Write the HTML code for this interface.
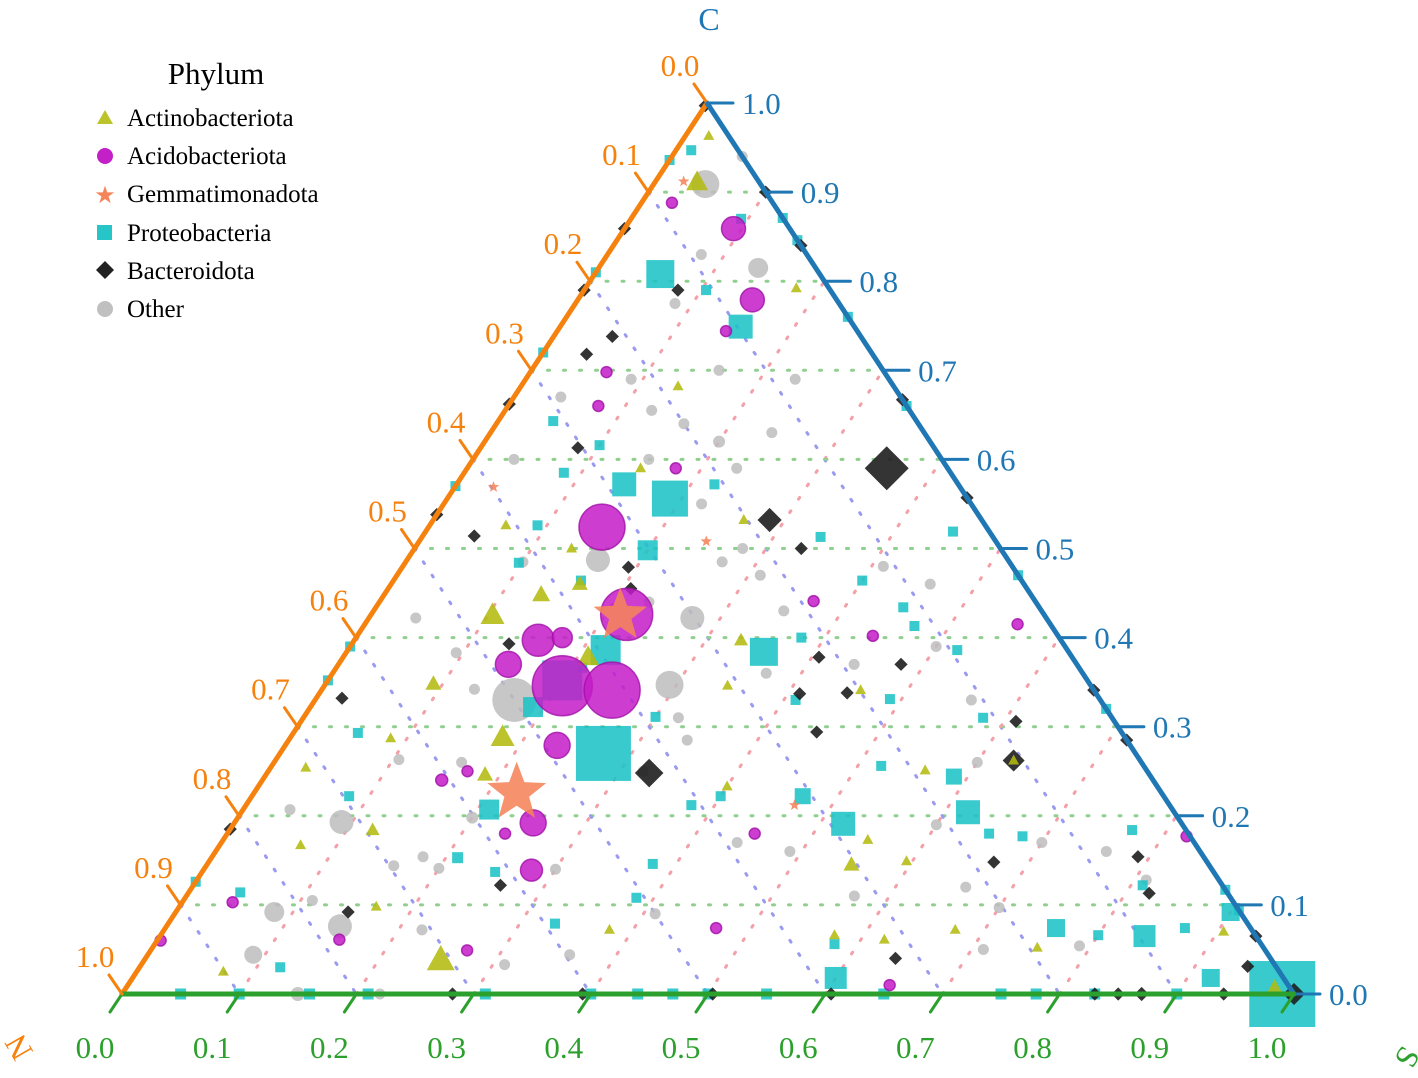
<!DOCTYPE html>
<html><head><meta charset="utf-8"><style>
html,body{margin:0;padding:0;background:#fff;}
svg{display:block;font-family:"Liberation Serif",serif;}
</style></head><body>
<svg id="chart" width="1418" height="1078" viewBox="0 0 1418 1078" xmlns="http://www.w3.org/2000/svg">
<g id="grid"></g>
<g id="marks"></g>
<g id="axes"></g>
<g font-size="25">
  <text x="216" y="84" text-anchor="middle" font-size="31">Phylum</text>
  <g><polygon points="105,110 113,124 97,124" fill="#b5be14" opacity="0.9"/><text x="127" y="126">Actinobacteriota</text></g>
  <g><circle cx="105" cy="156" r="8" fill="#c420c8"/><text x="127" y="164">Acidobacteriota</text></g>
  <g><text x="105" y="203" text-anchor="middle" fill="#f5845a" font-size="24">★</text><text x="127" y="202">Gemmatimonadota</text></g>
  <g><rect x="97" y="225" width="15" height="15" fill="#25c5c8"/><text x="127" y="241">Proteobacteria</text></g>
  <g><polygon points="105,261 114,270 105,279 96,270" fill="#222"/><text x="127" y="279">Bacteroidota</text></g>
  <g><circle cx="105" cy="309" r="8" fill="#c0c0c0"/><text x="127" y="317">Other</text></g>
</g>
</svg>
<script>
// ---- data: S (bottom), C (right/top); N = 1 - S - C; size = marker size px
const otherS=[.17,.294,.276,.044,.136,.091,.148,.084,.09,.163,.04,.11,.04,.094,.13,.105,.16,.2,.18,.16,.2,.1,.035,.04,.09,.125,.16,.2,.23,.24,.23,.16,.085,.08,.06,.22,.28,.31,.35,.44,.41,.46,.5,.56,.6,.66,.7,.76,.79,.71,.57,.49,.44,.41,.36,.3,.34,.32,.37,.6,.7,.81,.15,.23,.27,.22,.15,.22,.31,.32];
const otherC=[.33,.347,.422,.909,.815,.193,.076,.092,.044,.487,.207,.105,.422,.383,.342,.263,.26,.198,.154,.144,.141,.485,.6,.67,.69,.655,.70,.62,.59,.63,.69,.64,.775,.83,.94,.55,.5,.47,.43,.37,.48,.46,.39,.33,.26,.12,.17,.16,.054,.05,.11,.16,.17,.09,.044,.14,.285,.31,.36,.19,.097,.128,.6,.44,.485,.072,0,0,.033,.25];
const otherSize=[44,28,24,28,20,24,24,20,18,24,11,11,11,11,11,11,11,12,11,11,11,11,11,11,11,11,11,12,11,11,11,11,11,11,11,11,11,11,11,11,11,11,11,11,11,11,11,11,11,11,11,11,11,11,11,11,11,11,11,11,11,11,11,11,11,11,14,11,11,11];

const protS=[.99,.276,.19,.056,.356,.154,.143,.62,.52,.60,.84,.588,.22,.20,.92,.76,.90,.21,.47,.19,.20,
 .055,.083,.044,.12,.21,.25,.047,.085,.092,.097,.16,.22,.34,.40,.47,.45,.52,.45,.58,.49,.38,.41,.30,.38,.40,.38,.385,.33,.65,.68,.77,.81,.80,.87,.58,.094,.104,.013,.10,.21,.52,
 .05,.10,.16,.21,.31,.40,.44,.47,.50,.55,.65,.75,.78,.83,.90,
 0,0,0,0,0,0,0,.129,.154,.24,.34,.53,.68,.883,.906];
const protC=[0,.27,.556,.808,.384,.749,.572,.204,.191,.018,.065,.244,.386,.352,.018,.074,.092,.207,.222,.322,.498,
 .293,.222,.114,.03,.153,.137,.643,.585,.526,.484,.464,.572,.513,.464,.413,.434,.386,.519,.31,.331,.40,.33,.311,.212,.222,.146,.108,.079,.18,.177,.184,.122,.066,.074,.056,.87,.79,.947,.616,.366,.256,
 0,0,0,0,0,0,0,0,0,0,0,0,0,0,0,
 .126,.352,.39,.57,.72,.936,.81,.871,.846,.76,.66,.47,.32,.117,.094];
const protSize=[66,55,36,28,28,24,24,24,24,22,22,16,30,40,18,18,18,20,16,20,20,
 10,10,10,10,11,10,10,10,10,10,10,10,10,10,10,10,10,10,10,10,10,10,10,10,10,10,10,10,10,10,10,10,10,10,10,10,10,10,10,10,10,
 11,11,11,11,11,11,11,11,11,11,11,11,11,11,11,
 10,10,10,10,10,10,10,10,10,10,10,10,10,10,10];

const bactS=[.358,.326,.287,.63,1.0,.87,.85,.83,.94,.945,.79,.82,.67,.61,.48,.45,.41,.406,.446,.33,.207,.193,.262,.147,.022,.044,.083,.038,.05,.08,.134,.64,.605,.504,.393,.282,
 .10,.16,.333,.443,.659,.715,.935,0,0,0,0,0,0];
const bactC=[.59,.248,.532,.262,0,0,0,0,0,.031,.154,.113,.148,.306,.37,.338,.337,.378,.294,.50,.455,.479,.122,.092,.332,.514,.613,.718,.738,.79,.393,.04,0,0,0,0,
 .9,.84,.667,.557,.341,.285,.065,.185,.538,.662,.859,.79,.997];
const bactSize=[40,26,22,20,20,13,12,12,12,12,12,12,12,12,12,12,12,12,12,12,12,12,12,12,12,12,12,12,12,12,12,12,12,12,12,12,
 12,12,12,12,12,12,12,12,12,12,12,12,12];

const actS=[.253,.181,.104,.036,.209,.134,.161,.187,.092,.122,.55,.33,.98,.069,.03,.086,.168,.074,.134,.065,.148,.134,.18,.40,.344,.46,.55,.595,.56,.675,.755,.62,.575,.38,.02,.265,.905,.63];
const actC=[.038,.288,.425,.911,.378,.448,.46,.246,.348,.184,.145,.397,.007,.167,.254,.287,.098,.025,.5,.526,.59,.682,.792,.233,.346,.341,.173,.149,.251,.072,.052,.061,.066,.072,.963,.532,.07,.262];
const actSize=[28,24,24,22,22,18,16,16,16,14,16,14,16,11,11,11,11,11,11,11,11,11,11,11,11,11,11,11,11,11,11,11,11,11,11,11,11,11];

const acidS=[.248,.203,.148,.218,.157,.145,.232,.149,.093,.255,.28,.176,.557,.44,.37,.47,.27,.153,.17,.237,.45,.65,.82,.003,.043,.155,.077,.065,.026,.178,.144];
const acidC=[.341,.346,.524,.426,.397,.370,.279,.779,.859,.192,.139,.40,.415,.402,.441,.074,.049,.24,.25,.18,.18,.01,.177,.06,.103,.061,.66,.698,.888,.59,.744];
const acidSize=[56,60,46,52,32,26,26,24,24,26,22,20,11,11,11,11,11,12,11,11,11,11,11,11,11,11,11,11,11,11,11];

const gemS=[.224,.213,.024,.033,.245,.468];
const gemC=[.226,.425,.912,.569,.508,.212];
const gemSize=[62,56,12,12,12,12];

const tickVals=[0,.1,.2,.3,.4,.5,.6,.7,.8,.9,1];
const tickLabels=["0.0","0.1","0.2","0.3","0.4","0.5","0.6","0.7","0.8","0.9","1.0"];

// ---- geometry
const BL=[122,994], BR=[1294,994], TP=[707,103];
function px(s,c){const n=1-s-c;return [n*BL[0]+s*BR[0]+c*TP[0], n*BL[1]+s*BR[1]+c*TP[1]];}
const NS="http://www.w3.org/2000/svg";
function mk(tag,attrs,parent){const e=document.createElementNS(NS,tag);for(const k in attrs)e.setAttribute(k,attrs[k]);parent.appendChild(e);return e;}
const grid=document.getElementById('grid'), marks=document.getElementById('marks'), axes=document.getElementById('axes');

// gridlines
for(let i=1;i<10;i++){const k=tickVals[i];
  let a=px(0,k),b=px(1-k,k);
  let l=mk('line',{x1:a[0],y1:a[1],x2:b[0],y2:b[1],stroke:'#8fcf8f','stroke-width':3,'stroke-dasharray':'2 14','stroke-linecap':'round'},grid);
  
  
  a=px(k,0);b=px(k,1-k);
  l=mk('line',{x1:a[0],y1:a[1],x2:b[0],y2:b[1],stroke:'#f3a0a8','stroke-width':3,'stroke-dasharray':'2 14','stroke-linecap':'round'},grid);
  
  
  a=px(0,1-k);b=px(1-k,0);
  l=mk('line',{x1:a[0],y1:a[1],x2:b[0],y2:b[1],stroke:'#9a9af0','stroke-width':3,'stroke-dasharray':'2 14','stroke-linecap':'round'},grid);
  
  
}

// markers
function shape(kind,x,y,d,g,name){
  let e;const r=d/2;
  if(kind==='circle'){e=mk('circle',{cx:x,cy:y,r:r},g);}
  else if(kind==='square'){e=mk('rect',{x:x-r,y:y-r,width:d,height:d},g);}
  else if(kind==='diamond'){const q=r*1.1;e=mk('polygon',{points:`${x},${y-q} ${x+q},${y} ${x},${y+q} ${x-q},${y}`},g);}
  else if(kind==='tri'){const h=d*0.9;e=mk('polygon',{points:`${x},${y-h*0.6} ${x+r},${y+h*0.4} ${x-r},${y+h*0.4}`},g);}
  else {let p=[];for(let i=0;i<10;i++){const rr=i%2?r*0.42:r;const a=-Math.PI/2+i*Math.PI/5;p.push((x+rr*Math.cos(a)).toFixed(1)+','+(y+rr*Math.sin(a)).toFixed(1));}e=mk('polygon',{points:p.join(' ')},g);}
  
  
  return e;
}
function series(S,C,Z,kind,fill,op,name,stroke){
  const g=mk('g',{fill:fill,'fill-opacity':op},marks);
  
  
  if(stroke){g.setAttribute('stroke',stroke);g.setAttribute('stroke-width',1.5);g.setAttribute('stroke-opacity',0.8);}
  const idx=S.map((_,i)=>i).sort((a,b)=>Z[b]-Z[a]);
  idx.forEach(i=>{const p=px(S[i],C[i]);shape(kind,p[0],p[1],Z[i],g,name+'-point');});
}
series(otherS,otherC,otherSize,'circle','#bdbdbd',0.85,'other');
series(protS,protC,protSize,'square','#1cc3c6',0.88,'proteobacteria');
series(bactS,bactC,bactSize,'diamond','#1e1e1e',0.9,'bacteroidota');
series(actS,actC,actSize,'tri','#b3bb10',0.88,'actinobacteriota');
series(acidS,acidC,acidSize,'circle','#c41cc8',0.85,'acidobacteriota','#a010a8');
series(gemS,gemC,gemSize,'star','#f5845a',0.88,'gemmatimonadota');

// axes
function line(a,b,col,w,name){const l=mk('line',{x1:a[0],y1:a[1],x2:b[0],y2:b[1],stroke:col,'stroke-width':w,'stroke-linecap':'round'},axes);
  
  return l;}
function txt(x,y,s,col,anchor,name,size){const t=mk('text',{x:x,y:y,fill:col,'text-anchor':anchor,'font-size':size||31},axes);t.textContent=s;
  
  return t;}
const OR='#f5820f', BLU='#1f77b4', GR='#2ca02c';
line(BL,TP,OR,5,'n-axis-line');
line(TP,BR,BLU,5,'c-axis-line');
line(BL,BR,GR,5,'s-axis-line');
tickVals.forEach((k,i)=>{
  let p=px(0,1-k);
  line(p,[p[0]-13,p[1]-19],OR,3,'n-tick');
  txt(p[0]-27,p[1]-27,tickLabels[i],OR,'middle','n-tick-label');
  p=px(1-k,k);
  line(p,[p[0]+26,p[1]],BLU,3,'c-tick');
  txt(p[0]+35,p[1]+11,tickLabels[i],BLU,'start','c-tick-label');
  p=px(k,0);
  line(p,[p[0]-12,p[1]+18],GR,3,'s-tick');
  txt(p[0]-27,p[1]+64,tickLabels[i],GR,'middle','s-tick-label');
});
txt(709,30,'C',BLU,'middle','c-axis-title',32);
let tn=txt(0,0,'N',OR,'middle','n-axis-title',32);tn.setAttribute('transform','translate(28,1042) rotate(-120)');
let ts=txt(0,0,'S',GR,'middle','s-axis-title',32);ts.setAttribute('transform','translate(1398,1052) rotate(120)');
</script>
</body></html>
